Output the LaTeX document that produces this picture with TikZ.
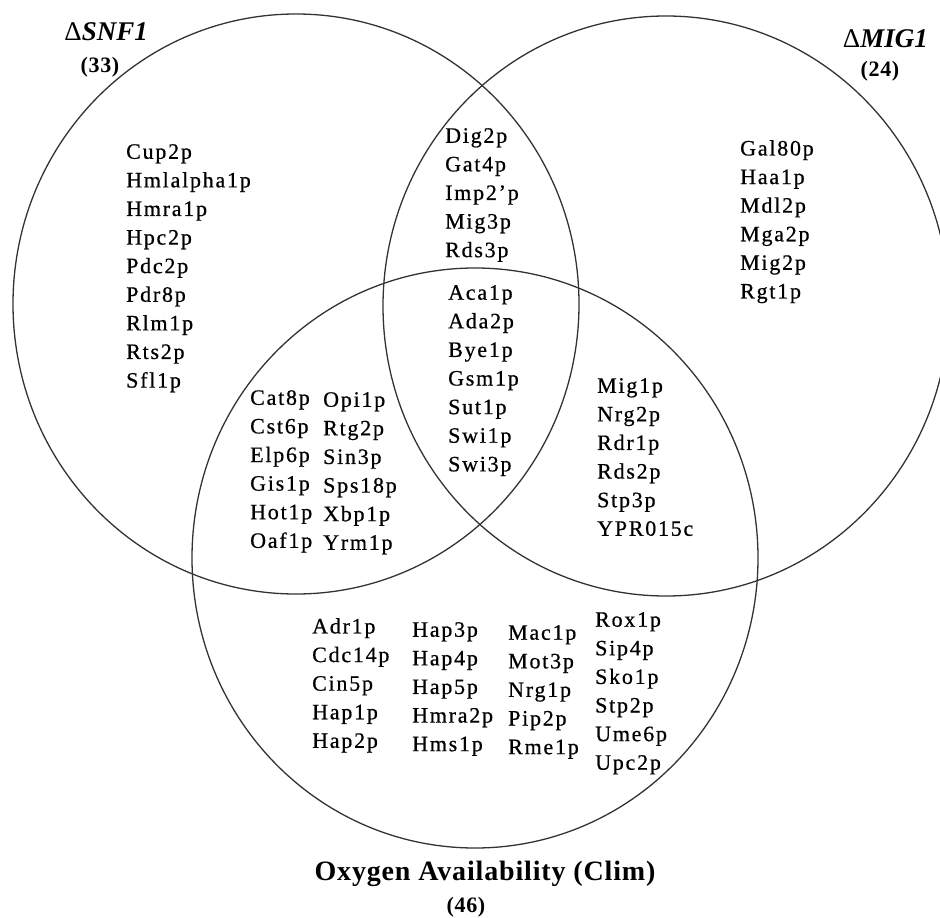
\documentclass[tikz,border=0pt]{standalone}
\usepackage{fontspec}
\setmainfont{Liberation Serif}
\newfontfamily\genefont[LetterSpace=8, FakeBold=0.6]{Liberation Serif}
\newfontfamily\headfont[LetterSpace=3]{Liberation Serif}
\usepackage{tikz}

\begin{document}
\begin{tikzpicture}[x=1pt, y=-1pt,
    venn/.style={line width=1.3pt, black!80},
    genes/.style={anchor=north west, inner sep=0pt, align=left,
      font=\genefont\fontsize{22}{28.6}\selectfont},
    setname/.style={anchor=base east, inner sep=0pt, font=\fontsize{27}{30}\selectfont},
    setcount/.style={anchor=base, inner sep=0pt, font=\headfont\fontsize{22}{24}\selectfont\bfseries}]
    \useasboundingbox (0,0) rectangle (940,918);

    % Draw the three sets
    \begin{scope}
        \clip (0,0) rectangle (940,918);
        \draw[venn] (296,304) ellipse [x radius=283pt, y radius=290pt];
        \draw[venn] (666,306) ellipse [x radius=283pt, y radius=290pt];
        \draw[venn] (475,558) ellipse [x radius=283pt, y radius=290pt];
    \end{scope}

    % Set names and sizes
    \node[setname] (snf) at (148,40) {Δ\textbf{\textit{SNF1}}};
    \node[setcount] (snfn) at (100,72) {(33)};
    \node[setname] (mig) at (928,47) {Δ\textbf{\textit{MIG1}}};
    \node[setcount] (mign) at (880,76) {(24)};
    \node[setcount, font=\headfont\fontsize{28}{30}\selectfont\bfseries] (oxy) at (485,880) {Oxygen Availability (Clim)};
    \node[setcount] (oxyn) at (466,912) {(46)};

    % SNF1 only
    \node[genes] (snfonly) at (126,144) {Cup2p\\Hmlalpha1p\\Hmra1p\\Hpc2p\\Pdc2p\\Pdr8p\\Rlm1p\\Rts2p\\Sfl1p};

    % MIG1 only
    \node[genes] (migonly) at (740,140) {Gal80p\\Haa1p\\Mdl2p\\Mga2p\\Mig2p\\Rgt1p};

    % SNF1 and MIG1
    \node[genes] (snfmig) at (445,128) {Dig2p\\Gat4p\\Imp2’p\\Mig3p\\Rds3p};

    % All three
    \node[genes] (core) at (448,285) {Aca1p\\Ada2p\\Bye1p\\Gsm1p\\Sut1p\\Swi1p\\Swi3p};

    % SNF1 and oxygen
    \node[genes] (snfoxyA) at (250,390) {Cat8p\\Cst6p\\Elp6p\\Gis1p\\Hot1p\\Oaf1p};
    \node[genes] (snfoxyB) at (323,392) {Opi1p\\Rtg2p\\Sin3p\\Sps18p\\Xbp1p\\Yrm1p};

    % MIG1 and oxygen
    \node[genes] (migoxy) at (597,378) {Mig1p\\Nrg2p\\Rdr1p\\Rds2p\\Stp3p\\YPR015c};

    % Oxygen only
    \node[genes] (oxyA) at (312,618) {Adr1p\\Cdc14p\\Cin5p\\Hap1p\\Hap2p};
    \node[genes] (oxyB) at (412,622) {Hap3p\\Hap4p\\Hap5p\\Hmra2p\\Hms1p};
    \node[genes] (oxyC) at (508,625) {Mac1p\\Mot3p\\Nrg1p\\Pip2p\\Rme1p};
    \node[genes] (oxyD) at (595,612) {Rox1p\\Sip4p\\Sko1p\\Stp2p\\Ume6p\\Upc2p};
\end{tikzpicture}
\end{document}
